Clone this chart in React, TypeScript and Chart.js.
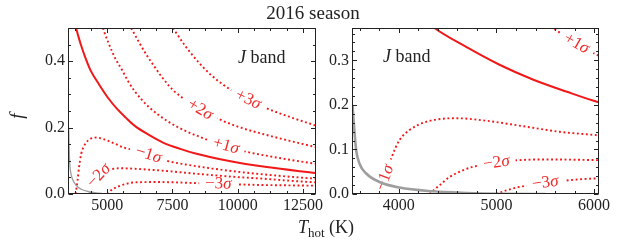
import React, { useEffect, useRef } from "react";
import { Chart, registerables } from "chart.js";

Chart.register(...registerables);

// ---------------- data (T_hot in K, f) ----------------
const BEST_T = [3810, 3900, 4000, 4150, 4365, 4690, 5031, 5372, 5714, 6046, 6600, 7141, 7800, 8423, 9577, 11115, 13000];
const BEST_F = [0.5, 0.474, 0.448, 0.414, 0.3725, 0.33, 0.29, 0.257, 0.23, 0.206, 0.178, 0.155, 0.136, 0.121, 0.101, 0.081, 0.063];

const P1_T = [4833, 5050, 5300, 5577, 5800, 6050, 6600, 7300, 8000, 8550, 9300, 10400, 11200, 12000, 13000];
const P1_F = [0.5, 0.455, 0.41, 0.3725, 0.34, 0.31, 0.262, 0.22, 0.19, 0.172, 0.15, 0.126, 0.114, 0.103, 0.091];

const P2_T = [5920, 6200, 6500, 6800, 7100, 7500, 8000, 8600, 9300, 10000, 11000, 12000, 13000];
const P2_F = [0.5, 0.46, 0.42, 0.385, 0.352, 0.315, 0.283, 0.252, 0.225, 0.203, 0.18, 0.16, 0.141];

const P3_T = [7520, 8000, 8500, 9000, 9577, 10200, 11115, 12000, 13000];
const P3_F = [0.5, 0.445, 0.397, 0.357, 0.322, 0.292, 0.258, 0.232, 0.206];

const M1_T = [3790, 3865, 3922, 4007, 4109, 4280, 4588, 4895, 5305, 5646, 6022, 6600, 7333, 8000, 9000, 10000, 11000, 12000, 13000];
const M1_F = [0, 0.04, 0.08, 0.121, 0.1435, 0.162, 0.17, 0.1644, 0.151, 0.1396, 0.132, 0.118, 0.099, 0.089, 0.077, 0.067, 0.059, 0.052, 0.046];

const M2_T = [4314, 4417, 4519, 4655, 4758, 5000, 5236, 5543, 6033, 7000, 8000, 9000, 10000, 11000, 12000, 13000];
const M2_F = [0, 0.0196, 0.038, 0.053, 0.061, 0.07, 0.076, 0.0775, 0.076, 0.071, 0.064, 0.057, 0.051, 0.046, 0.04, 0.035];

const M3_T = [4997, 5100, 5236, 5339, 5500, 5748, 6033, 7000, 8300, 9000, 9960, 11000, 12000, 13000];
const M3_F = [0, 0.008, 0.016, 0.0196, 0.025, 0.031, 0.035, 0.036, 0.033, 0.031, 0.029, 0.027, 0.026, 0.025];

const GRAY_T = [3525, 3545, 3563, 3597, 3666, 3802, 4007, 4348, 4690, 5000, 5500];
const GRAY_F = [0.2, 0.14, 0.098, 0.068, 0.046, 0.027, 0.0144, 0.006, 0.0023, 0.0005, 0];

// tick labels
const LEFT_X_TICKS = [5000, 7500, 10000, 12500];
const LEFT_Y_TICKS = [0, 0.2, 0.4];
const RIGHT_X_TICKS = [4000, 5000, 6000];
const RIGHT_Y_TICKS = [0, 0.1, 0.2, 0.3];

const TITLE = "2016 season";
const BAND = "band";

// contour label texts
const LEFT_LABEL_TEXT = ["+3", "+2", "+1", "\u22121", "\u22122", "\u22123"];
const LEFT_LABEL_CURVE = ["p3", "p2", "p1", "m1", "m2", "m3"];
const LEFT_LABEL_AT = [10400, 8560, 9550, 6580, 4680, 9260];
const RIGHT_LABEL_TEXT = ["+1", "\u22121", "\u22122", "\u22123"];
const RIGHT_LABEL_CURVE = ["p1", "m1", "m2", "m3"];
const RIGHT_LABEL_AT = [5820, 3858, 5000, 5500];

// ---------------- styling ----------------
const FONT = '"Liberation Serif", "DejaVu Serif", serif';
const RED = "#f01818";
const LABEL_RED = "#ee2a2a";
const GRAY = "#9e9e9e";
const INK = "#222222";

const CURVES: Record<string, { T: number[]; F: number[]; dotted: boolean }> = {
  best: { T: BEST_T, F: BEST_F, dotted: false },
  p1: { T: P1_T, F: P1_F, dotted: true },
  p2: { T: P2_T, F: P2_F, dotted: true },
  p3: { T: P3_T, F: P3_F, dotted: true },
  m1: { T: M1_T, F: M1_F, dotted: true },
  m2: { T: M2_T, F: M2_F, dotted: true },
  m3: { T: M3_T, F: M3_F, dotted: true },
};

type Part = { s: string; it?: boolean; size: number; dy?: number };

function fontOf(p: Part) {
  return `${p.it ? "italic " : ""}${p.size}px ${FONT}`;
}
function widthOf(ctx: CanvasRenderingContext2D, parts: Part[]) {
  let w = 0;
  for (const p of parts) {
    ctx.font = fontOf(p);
    w += ctx.measureText(p.s).width;
  }
  return w;
}
function drawParts(ctx: CanvasRenderingContext2D, parts: Part[], x: number, y: number, center: boolean) {
  const w = widthOf(ctx, parts);
  let cx = center ? x - w / 2 : x;
  for (const p of parts) {
    ctx.font = fontOf(p);
    ctx.fillText(p.s, cx, y + (p.dy || 0));
    cx += ctx.measureText(p.s).width;
  }
  return w;
}

function interp(T: number[], F: number[], t: number) {
  if (t <= T[0]) return F[0];
  for (let i = 1; i < T.length; i++) {
    if (t <= T[i]) {
      const u = (t - T[i - 1]) / (T[i] - T[i - 1]);
      return F[i - 1] + u * (F[i] - F[i - 1]);
    }
  }
  return F[F.length - 1];
}

type Panel = {
  area: { left: number; right: number; top: number; bottom: number };
  yAxisWidth: number;
  xMin: number;
  xMax: number;
  yMax: number;
  xTicks: number[];
  yTicks: number[];
  xMinor: number;
  yMinor: number;
  grayWidth: number;
  labelText: string[];
  labelCurve: string[];
  labelAt: number[];
  bandPos: [number, number];
  figureText: boolean;
};

const W = 623;
const H = 241;

const LEFT: Panel = {
  area: { left: 68, right: 316, top: 28, bottom: 194 },
  yAxisWidth: 68,
  xMin: 3500,
  xMax: 13000,
  yMax: 0.5,
  xTicks: LEFT_X_TICKS,
  yTicks: LEFT_Y_TICKS,
  xMinor: 625,
  yMinor: 0.05,
  grayWidth: 1.3,
  labelText: LEFT_LABEL_TEXT,
  labelCurve: LEFT_LABEL_CURVE,
  labelAt: LEFT_LABEL_AT,
  bandPos: [238, 63],
  figureText: true,
};

const RIGHT: Panel = {
  area: { left: 352, right: 599, top: 28, bottom: 194 },
  yAxisWidth: 40,
  xMin: 3520,
  xMax: 6050,
  yMax: 0.3725,
  xTicks: RIGHT_X_TICKS,
  yTicks: RIGHT_Y_TICKS,
  xMinor: 200,
  yMinor: 0.02,
  grayWidth: 2.6,
  labelText: RIGHT_LABEL_TEXT,
  labelCurve: RIGHT_LABEL_CURVE,
  labelAt: RIGHT_LABEL_AT,
  bandPos: [383, 62],
  figureText: false,
};

function makeConfig(p: Panel): any {
  const keys = Object.keys(CURVES);
  const datasets: any[] = keys.map((k) => {
    const c = CURVES[k];
    return {
      data: c.T.map((t, i) => ({ x: t, y: c.F[i] })),
      borderColor: RED,
      borderWidth: c.dotted ? 1.9 : 2,
      borderDash: c.dotted ? [1.9, 2.6] : [],
      pointRadius: 0,
      fill: false,
      cubicInterpolationMode: "monotone",
      order: 0,
    };
  });
  const grayIndex = datasets.length;
  datasets.push({
    data: GRAY_T.map((t, i) => ({ x: t, y: GRAY_F[i] })),
    borderColor: GRAY,
    borderWidth: p.grayWidth,
    pointRadius: 0,
    fill: false,
    cubicInterpolationMode: "monotone",
    order: -1,
  });

  const labelPlugin = {
    id: "contourLabels",
    beforeDatasetDraw(chart: any, args: any) {
      if (args.index !== grayIndex) return;
      const { ctx, chartArea: a } = chart;
      const xs = chart.scales.x;
      const ys = chart.scales.y;
      ctx.save();
      ctx.beginPath();
      ctx.rect(a.left, a.top, a.right - a.left, a.bottom - a.top);
      ctx.clip();
      const dt = (xs.max - xs.min) * 0.012;
      p.labelText.forEach((txt, i) => {
        const c = CURVES[p.labelCurve[i]];
        const t = p.labelAt[i];
        const px = xs.getPixelForValue(t);
        const py = ys.getPixelForValue(interp(c.T, c.F, t));
        const x1 = xs.getPixelForValue(t - dt);
        const y1 = ys.getPixelForValue(interp(c.T, c.F, t - dt));
        const x2 = xs.getPixelForValue(t + dt);
        const y2 = ys.getPixelForValue(interp(c.T, c.F, t + dt));
        let ang = Math.atan2(y2 - y1, x2 - x1);
        if (ang > Math.PI / 2) ang -= Math.PI;
        if (ang < -Math.PI / 2) ang += Math.PI;
        const parts: Part[] = [
          { s: txt, size: 17 },
          { s: "\u03c3", it: true, size: 17 },
        ];
        ctx.save();
        ctx.translate(px, py);
        ctx.rotate(ang);
        const w = widthOf(ctx, parts);
        ctx.fillStyle = "#ffffff";
        ctx.fillRect(-w / 2 - 6, -4.5, w + 12, 9);
        ctx.fillStyle = LABEL_RED;
        ctx.textBaseline = "middle";
        drawParts(ctx, parts, 0, 0, true);
        ctx.restore();
      });
      ctx.restore();
    },
  };

  const framePlugin = {
    id: "frameTicks",
    afterDraw(chart: any) {
      const { ctx, chartArea: a } = chart;
      const xs = chart.scales.x;
      const ys = chart.scales.y;
      ctx.save();
      ctx.strokeStyle = INK;
      ctx.lineWidth = 1;
      const L = Math.round(a.left) + 0.5;
      const R = Math.round(a.right) - 0.5;
      const T = Math.round(a.top) + 0.5;
      const B = Math.round(a.bottom) - 0.5;
      ctx.strokeRect(L, T, R - L, B - T);
      ctx.beginPath();
      const k0 = Math.ceil(xs.min / p.xMinor - 1e-9);
      const k1 = Math.floor(xs.max / p.xMinor + 1e-9);
      for (let k = k0; k <= k1; k++) {
        const v = k * p.xMinor;
        const major = p.xTicks.some((m) => Math.abs(m - v) < 1e-6);
        const len = major ? 4.5 : 2.5;
        const x = Math.round(xs.getPixelForValue(v)) + 0.5;
        ctx.moveTo(x, B);
        ctx.lineTo(x, B - len);
        ctx.moveTo(x, T);
        ctx.lineTo(x, T + len);
      }
      const j0 = Math.ceil(ys.min / p.yMinor - 1e-9);
      const j1 = Math.floor(ys.max / p.yMinor + 1e-9);
      for (let j = j0; j <= j1; j++) {
        const v = j * p.yMinor;
        const major = p.yTicks.some((m) => Math.abs(m - v) < 1e-9);
        const len = major ? 4.5 : 2.5;
        const y = Math.round(ys.getPixelForValue(v)) + 0.5;
        ctx.moveTo(L, y);
        ctx.lineTo(L + len, y);
        ctx.moveTo(R, y);
        ctx.lineTo(R - len, y);
      }
      ctx.stroke();
      ctx.restore();
    },
  };

  const textPlugin = {
    id: "figText",
    afterDraw(chart: any) {
      const { ctx } = chart;
      ctx.save();
      ctx.fillStyle = INK;
      ctx.textBaseline = "alphabetic";
      drawParts(
        ctx,
        [
          { s: "J", it: true, size: 18 },
          { s: " " + BAND, size: 18 },
        ],
        p.bandPos[0],
        p.bandPos[1],
        false
      );
      if (p.figureText) {
        ctx.textAlign = "left";
        drawParts(ctx, [{ s: TITLE, size: 19 }], 313, 19, true);
        drawParts(
          ctx,
          [
            { s: "T", it: true, size: 18 },
            { s: "hot", size: 13, dy: 4 },
            { s: " (K)", size: 18 },
          ],
          298,
          233,
          false
        );
        ctx.save();
        ctx.translate(23, 116);
        ctx.rotate(-Math.PI / 2);
        ctx.textBaseline = "alphabetic";
        drawParts(ctx, [{ s: "f", it: true, size: 19 }], 0, 0, true);
        ctx.restore();
      }
      ctx.restore();
    },
  };

  const yDec = p.yTicks.some((v) => Math.abs(v * 10 - Math.round(v * 10)) > 1e-9) ? 2 : 1;

  return {
    type: "line",
    data: { datasets },
    options: {
      animation: false,
      responsive: false,
      devicePixelRatio: 1,
      events: [],
      layout: {
        padding: {
          left: p.area.left - p.yAxisWidth,
          right: W - p.area.right,
          top: p.area.top,
          bottom: 0,
        },
      },
      plugins: {
        legend: { display: false },
        tooltip: { enabled: false },
        title: { display: false },
      },
      scales: {
        x: {
          type: "linear",
          min: p.xMin,
          max: p.xMax,
          grid: { display: false, drawTicks: false },
          border: { display: false },
          afterBuildTicks: (s: any) => {
            s.ticks = p.xTicks.map((v) => ({ value: v }));
          },
          afterFit: (s: any) => {
            s.height = H - p.area.bottom;
          },
          ticks: {
            autoSkip: false,
            maxRotation: 0,
            minRotation: 0,
            padding: 2,
            color: INK,
            font: { family: FONT, size: 16 },
            callback: (v: any) => String(v),
          },
        },
        y: {
          type: "linear",
          min: 0,
          max: p.yMax,
          grid: { display: false, drawTicks: false },
          border: { display: false },
          afterBuildTicks: (s: any) => {
            s.ticks = p.yTicks.map((v) => ({ value: v }));
          },
          afterFit: (s: any) => {
            s.width = p.yAxisWidth;
          },
          ticks: {
            autoSkip: false,
            padding: 3,
            color: INK,
            font: { family: FONT, size: 16 },
            callback: (v: any) => Number(v).toFixed(yDec),
          },
        },
      },
    },
    plugins: [labelPlugin, framePlugin, textPlugin],
  };
}

export default function App() {
  const leftRef = useRef<HTMLCanvasElement>(null);
  const rightRef = useRef<HTMLCanvasElement>(null);

  useEffect(() => {
    const c1 = new Chart(leftRef.current as HTMLCanvasElement, makeConfig(LEFT));
    const c2 = new Chart(rightRef.current as HTMLCanvasElement, makeConfig(RIGHT));
    return () => {
      c1.destroy();
      c2.destroy();
    };
  }, []);

  return (
    <div style={{ position: "absolute", left: 0, top: 0, width: W, height: H, background: "#ffffff" }}>
      <canvas ref={leftRef} width={W} height={H} style={{ position: "absolute", left: 0, top: 0 }} />
      <canvas ref={rightRef} width={W} height={H} style={{ position: "absolute", left: 0, top: 0 }} />
    </div>
  );
}
